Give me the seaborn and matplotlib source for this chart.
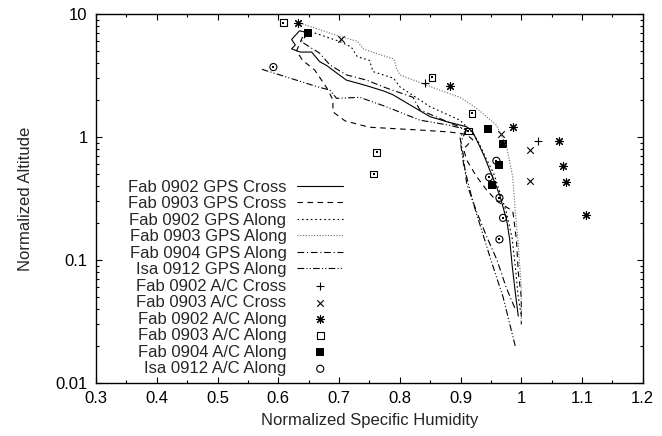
import matplotlib
matplotlib.use("Agg")
import matplotlib.pyplot as plt
from matplotlib.ticker import MultipleLocator, LogLocator, NullFormatter
import seaborn as sns

# GPS profiles: normalized specific humidity (q) vs normalized altitude (z)
fab0902_cross_q = [0.645, 0.635, 0.622, 0.628, 0.622, 0.636, 0.655, 0.668, 0.680, 0.693, 0.712,
                   0.735, 0.751, 0.775, 0.789, 0.822, 0.850, 0.880, 0.910, 0.920, 0.932, 0.940,
                   0.948, 0.957, 0.965, 0.976, 0.981, 0.985, 0.990, 0.995]
fab0902_cross_z = [7.1, 7.3, 6.2, 5.6, 5.2, 4.9, 4.9, 4.1, 3.8, 3.4, 2.9,
                   2.7, 2.56, 2.35, 2.2, 1.76, 1.46, 1.32, 1.21, 1.1, 0.83, 0.68,
                   0.54, 0.42, 0.33, 0.21, 0.146, 0.09, 0.055, 0.035]

fab0903_cross_q = [0.64, 0.63, 0.64, 0.66, 0.68, 0.69, 0.69, 0.71, 0.75, 0.83, 0.88, 0.91,
                   0.92, 0.905, 0.91, 0.926, 0.943, 0.96, 0.986, 0.992, 0.995, 1.0, 1.0]
fab0903_cross_z = [6.5, 5.0, 4.2, 3.5, 2.5, 2.0, 1.6, 1.35, 1.2, 1.14, 1.1, 1.05,
                   0.95, 0.8, 0.65, 0.48, 0.37, 0.3, 0.25, 0.146, 0.08, 0.05, 0.03]

fab0902_along_q = [0.66, 0.70, 0.72, 0.73, 0.75, 0.756, 0.79, 0.80, 0.85, 0.899, 0.92, 0.93,
                   0.94, 0.955, 0.965, 0.975, 0.985, 0.99, 0.995, 1.0]
fab0902_along_z = [7.0, 6.0, 5.4, 4.5, 4.2, 3.4, 3.0, 2.56, 1.76, 1.37, 1.08, 0.9,
                   0.7, 0.5, 0.35, 0.25, 0.15, 0.09, 0.05, 0.035]

fab0903_along_q = [0.64, 0.70, 0.73, 0.74, 0.76, 0.79, 0.795, 0.80, 0.866, 0.899, 0.926, 0.959,
                   0.976, 0.986, 0.99, 0.994, 1.0, 1.0]
fab0903_along_z = [8.3, 6.6, 6.0, 5.2, 4.8, 4.3, 3.6, 3.2, 2.4, 2.1, 1.72, 1.25,
                   0.83, 0.47, 0.25, 0.155, 0.06, 0.03]

fab0904_along_q = [0.649, 0.638, 0.668, 0.685, 0.712, 0.745, 0.778, 0.822, 0.833, 0.91, 0.899,
                   0.904, 0.91, 0.926, 0.943, 0.96, 0.975, 0.99]
fab0904_along_z = [7.0, 5.95, 4.8, 3.85, 3.2, 2.9, 2.5, 2.1, 1.66, 1.14, 1.0,
                   0.74, 0.42, 0.25, 0.155, 0.1, 0.06, 0.04]

isa0912_along_q = [0.573, 0.62, 0.66, 0.685, 0.696, 0.734, 0.778, 0.833, 0.88, 0.91, 0.90,
                   0.905, 0.92, 0.95, 0.97, 0.99]
isa0912_along_z = [3.55, 3.0, 2.6, 2.4, 2.06, 2.1, 1.76, 1.37, 1.25, 1.15, 0.9,
                   0.6, 0.3, 0.1, 0.05, 0.02]

# aircraft (A/C) samples
ac0902_cross_q = [0.841, 1.028]
ac0902_cross_z = [2.73, 0.93]
ac0903_cross_q = [0.704, 0.967, 1.014, 1.014]
ac0903_cross_z = [6.2, 1.06, 0.78, 0.44]
ac0902_along_q = [0.633, 0.882, 0.986, 1.062, 1.068, 1.074, 1.107]
ac0902_along_z = [8.4, 2.6, 1.21, 0.93, 0.58, 0.43, 0.23]
ac0903_along_q = [0.608, 0.853, 0.919, 0.913, 0.762, 0.757]
ac0903_along_z = [8.5, 3.06, 1.56, 1.12, 0.75, 0.5]
ac0904_along_q = [0.649, 0.946, 0.970, 0.963, 0.952]
ac0904_along_z = [7.0, 1.17, 0.88, 0.59, 0.41]
isa_ac_along_q = [0.592, 0.959, 0.947, 0.964, 0.970, 0.964]
isa_ac_along_z = [3.7, 0.64, 0.47, 0.32, 0.22, 0.147]

sns.set_theme(style="ticks")
plt.rcParams["font.family"] = ["Liberation Sans", "DejaVu Sans"]
plt.rcParams["font.size"] = 12

fig = plt.figure(figsize=(6.62, 4.36), dpi=100)
ax = fig.add_axes([0.145, 0.1216, 0.826, 0.8464])

lw = 0.8
lines = [
    (fab0902_cross_q, fab0902_cross_z, "Fab 0902 GPS Cross", "-", "black"),
    (fab0903_cross_q, fab0903_cross_z, "Fab 0903 GPS Cross", (0, (5, 4)), "black"),
    (fab0902_along_q, fab0902_along_z, "Fab 0902 GPS Along", (0, (1.5, 2.5)), "black"),
    (fab0903_along_q, fab0903_along_z, "Fab 0903 GPS Along", (0, (1, 1.5)), "#666666"),
    (fab0904_along_q, fab0904_along_z, "Fab 0904 GPS Along", (0, (6, 2.5, 1, 2.5)), "black"),
    (isa0912_along_q, isa0912_along_z, "Isa 0912 GPS Along", (0, (6, 2, 1, 2, 1, 2)), "black"),
]
for q, z, name, ls, col in lines:
    sns.lineplot(x=q, y=z, sort=False, estimator=None, ax=ax, color=col,
                 linestyle=ls, linewidth=lw, label=name)

sns.scatterplot(x=ac0902_cross_q, y=ac0902_cross_z, marker="+", s=30, color="black",
                linewidth=0.8, ax=ax, label="Fab 0902 A/C Cross")
sns.scatterplot(x=ac0903_cross_q, y=ac0903_cross_z, marker="x", s=22, color="black",
                linewidth=0.8, ax=ax, label="Fab 0903 A/C Cross")
sns.scatterplot(x=ac0902_along_q, y=ac0902_along_z, marker=(8, 2, 0), s=32, color="black",
                linewidth=0.8, ax=ax, label="Fab 0902 A/C Along")
sns.scatterplot(x=ac0903_along_q, y=ac0903_along_z, marker="s", s=24, facecolor="none",
                edgecolor="black", linewidth=0.8, ax=ax, label="Fab 0903 A/C Along")
sns.scatterplot(x=ac0903_along_q, y=ac0903_along_z, marker="s", s=1.2, color="black",
                linewidth=0, ax=ax)
sns.scatterplot(x=ac0904_along_q, y=ac0904_along_z, marker="s", s=26, color="black",
                linewidth=0, ax=ax, label="Fab 0904 A/C Along")
sns.scatterplot(x=isa_ac_along_q, y=isa_ac_along_z, marker="o", s=26, facecolor="none",
                edgecolor="black", linewidth=0.8, ax=ax, label="Isa 0912 A/C Along")
sns.scatterplot(x=isa_ac_along_q, y=isa_ac_along_z, marker="s", s=1.2, color="black",
                linewidth=0, ax=ax)

ax.set_yscale("log")
ax.set_xlim(0.3, 1.2)
ax.set_ylim(0.01, 10)
ax.set_xticks([0.3, 0.4, 0.5, 0.6, 0.7, 0.8, 0.9, 1.0, 1.1, 1.2],
              ["0.3", "0.4", "0.5", "0.6", "0.7", "0.8", "0.9", "1", "1.1", "1.2"])
ax.xaxis.set_minor_locator(MultipleLocator(0.05))
ax.set_yticks([0.01, 0.1, 1, 10], ["0.01", "0.1", "1", "10"])
ax.yaxis.set_minor_locator(LogLocator(base=10, subs=range(2, 10)))
ax.yaxis.set_minor_formatter(NullFormatter())
ax.tick_params(which="both", direction="in", top=True, right=True, colors="black",
               labelsize=12, width=0.8)
ax.tick_params(which="major", length=4, pad=6)
ax.tick_params(which="minor", length=2)
for sp in ax.spines.values():
    sp.set_visible(True)
    sp.set_linewidth(1.0)
    sp.set_color("black")

ax.set_xlabel("Normalized Specific Humidity", fontsize=12, labelpad=5)
ax.set_ylabel("Normalized Altitude", fontsize=12, labelpad=16)

handles, labels = ax.get_legend_handles_labels()
leg = ax.legend(handles, labels, loc="upper right", bbox_to_anchor=(0.452, 0.551),
                frameon=False, markerfirst=False, borderpad=0, borderaxespad=0,
                handlelength=2.75, handletextpad=0.65, labelspacing=0.09, fontsize=12)
for col in leg._legend_handle_box.get_children():
    col.align = "right"

fig.savefig("out.png", dpi=100)
